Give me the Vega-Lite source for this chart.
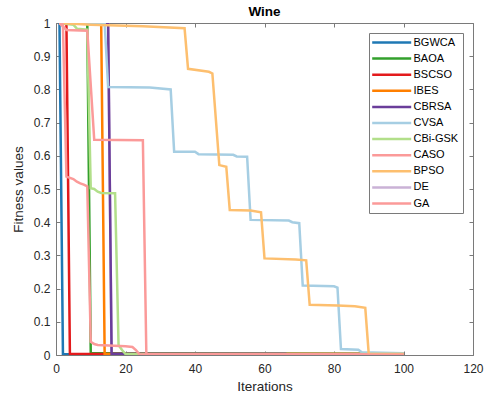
{
  "$schema": "https://vega.github.io/schema/vega-lite/v6.json",
  "width": 417,
  "height": 332,
  "autosize": "none",
  "padding": {"left": 56, "top": 23, "right": 19, "bottom": 43},
  "background": "white",
  "title": {"text": "Wine", "fontSize": 13.5, "fontWeight": "bold", "font": "Liberation Sans", "color": "#000000", "offset": -1},
  "data": {
    "values": [
      {"s": "DE", "x": 1, "y": 1}, {"s": "DE", "x": 15, "y": 1}, {"s": "DE", "x": 16, "y": 0.004}, {"s": "DE", "x": 100, "y": 0.004},
      {"s": "BGWCA", "x": 1, "y": 1}, {"s": "BGWCA", "x": 2, "y": 0.002}, {"s": "BGWCA", "x": 100, "y": 0.002},
      {"s": "BAOA", "x": 1, "y": 1}, {"s": "BAOA", "x": 9, "y": 1}, {"s": "BAOA", "x": 10, "y": 0.006}, {"s": "BAOA", "x": 100, "y": 0.003},
      {"s": "BSCSO", "x": 1, "y": 1}, {"s": "BSCSO", "x": 3, "y": 1}, {"s": "BSCSO", "x": 4, "y": 0.003}, {"s": "BSCSO", "x": 100, "y": 0.003},
      {"s": "IBES", "x": 1, "y": 1}, {"s": "IBES", "x": 13, "y": 1}, {"s": "IBES", "x": 14, "y": 0.004}, {"s": "IBES", "x": 100, "y": 0.003},
      {"s": "CBRSA", "x": 1, "y": 1}, {"s": "CBRSA", "x": 15, "y": 1}, {"s": "CBRSA", "x": 16, "y": 0.004}, {"s": "CBRSA", "x": 66, "y": 0.004}, {"s": "CBRSA", "x": 67, "y": 0.001}, {"s": "CBRSA", "x": 100, "y": 0.001},
      {"s": "CVSA", "x": 1, "y": 1}, {"s": "CVSA", "x": 14, "y": 1}, {"s": "CVSA", "x": 15, "y": 0.807}, {"s": "CVSA", "x": 27, "y": 0.806}, {"s": "CVSA", "x": 33, "y": 0.8}, {"s": "CVSA", "x": 34, "y": 0.612}, {"s": "CVSA", "x": 40, "y": 0.612}, {"s": "CVSA", "x": 41, "y": 0.605}, {"s": "CVSA", "x": 51, "y": 0.603}, {"s": "CVSA", "x": 52, "y": 0.598}, {"s": "CVSA", "x": 55, "y": 0.597}, {"s": "CVSA", "x": 56, "y": 0.407}, {"s": "CVSA", "x": 67, "y": 0.405}, {"s": "CVSA", "x": 68, "y": 0.4}, {"s": "CVSA", "x": 70, "y": 0.397}, {"s": "CVSA", "x": 71, "y": 0.209}, {"s": "CVSA", "x": 80, "y": 0.207}, {"s": "CVSA", "x": 81, "y": 0.203}, {"s": "CVSA", "x": 82, "y": 0.018}, {"s": "CVSA", "x": 87, "y": 0.016}, {"s": "CVSA", "x": 88, "y": 0.008}, {"s": "CVSA", "x": 100, "y": 0.005},
      {"s": "CBi-GSK", "x": 1, "y": 1}, {"s": "CBi-GSK", "x": 5, "y": 0.995}, {"s": "CBi-GSK", "x": 6, "y": 0.983}, {"s": "CBi-GSK", "x": 9, "y": 0.98}, {"s": "CBi-GSK", "x": 10, "y": 0.502}, {"s": "CBi-GSK", "x": 11, "y": 0.5}, {"s": "CBi-GSK", "x": 12, "y": 0.492}, {"s": "CBi-GSK", "x": 13, "y": 0.488}, {"s": "CBi-GSK", "x": 17, "y": 0.487}, {"s": "CBi-GSK", "x": 18, "y": 0.03}, {"s": "CBi-GSK", "x": 19, "y": 0.015}, {"s": "CBi-GSK", "x": 20, "y": 0.003}, {"s": "CBi-GSK", "x": 100, "y": 0.003},
      {"s": "CASO", "x": 1, "y": 1}, {"s": "CASO", "x": 3, "y": 0.979}, {"s": "CASO", "x": 9, "y": 0.977}, {"s": "CASO", "x": 11, "y": 0.648}, {"s": "CASO", "x": 25, "y": 0.647}, {"s": "CASO", "x": 26, "y": 0.002}, {"s": "CASO", "x": 100, "y": 0.002},
      {"s": "BPSO", "x": 1, "y": 1}, {"s": "BPSO", "x": 10, "y": 0.995}, {"s": "BPSO", "x": 25, "y": 0.99}, {"s": "BPSO", "x": 37, "y": 0.984}, {"s": "BPSO", "x": 38, "y": 0.862}, {"s": "BPSO", "x": 44, "y": 0.853}, {"s": "BPSO", "x": 45, "y": 0.848}, {"s": "BPSO", "x": 47, "y": 0.572}, {"s": "BPSO", "x": 49, "y": 0.567}, {"s": "BPSO", "x": 50, "y": 0.437}, {"s": "BPSO", "x": 56, "y": 0.435}, {"s": "BPSO", "x": 59, "y": 0.43}, {"s": "BPSO", "x": 60, "y": 0.291}, {"s": "BPSO", "x": 69, "y": 0.288}, {"s": "BPSO", "x": 72, "y": 0.285}, {"s": "BPSO", "x": 73, "y": 0.151}, {"s": "BPSO", "x": 81, "y": 0.149}, {"s": "BPSO", "x": 86, "y": 0.147}, {"s": "BPSO", "x": 89, "y": 0.142}, {"s": "BPSO", "x": 90, "y": 0.003}, {"s": "BPSO", "x": 100, "y": 0.003},
      {"s": "GA", "x": 1, "y": 1}, {"s": "GA", "x": 2, "y": 0.995}, {"s": "GA", "x": 3, "y": 0.537}, {"s": "GA", "x": 5, "y": 0.53}, {"s": "GA", "x": 6, "y": 0.522}, {"s": "GA", "x": 7, "y": 0.517}, {"s": "GA", "x": 8, "y": 0.513}, {"s": "GA", "x": 9, "y": 0.508}, {"s": "GA", "x": 10, "y": 0.04}, {"s": "GA", "x": 11, "y": 0.033}, {"s": "GA", "x": 12, "y": 0.03}, {"s": "GA", "x": 20, "y": 0.026}, {"s": "GA", "x": 22, "y": 0.024}, {"s": "GA", "x": 23, "y": 0.015}, {"s": "GA", "x": 24, "y": 0.002}, {"s": "GA", "x": 100, "y": 0.001}
    ]
  },
  "layer": [
    {
      "mark": {"type": "line", "strokeWidth": 2.5, "clip": true},
      "encoding": {
        "x": {
          "field": "x", "type": "quantitative",
          "scale": {"domain": [0, 120], "nice": false, "zero": false},
          "axis": {"orient": "bottom", "title": "Iterations", "values": [0, 20, 40, 60, 80, 100, 120], "labelPadding": 12, "titlePadding": 5}
        },
        "y": {
          "field": "y", "type": "quantitative",
          "scale": {"domain": [0, 1], "nice": false, "zero": false},
          "axis": {"orient": "left", "title": "Fitness values", "values": [0, 0.1, 0.2, 0.3, 0.4, 0.5, 0.6, 0.7, 0.8, 0.9, 1], "format": ".1~f", "labelPadding": 10, "titlePadding": 8}
        },
        "color": {
          "field": "s", "type": "nominal",
          "scale": {
            "domain": ["BGWCA", "BAOA", "BSCSO", "IBES", "CBRSA", "CVSA", "CBi-GSK", "CASO", "BPSO", "DE", "GA"],
            "range": ["#1f78b4", "#33a02c", "#e31a1c", "#ff7f00", "#6a3d9a", "#a6cee3", "#b2df8a", "#fb9a99", "#fdbf6f", "#cab2d6", "#fb9a99"]
          },
          "legend": {
            "orient": "none", "legendX": 313, "legendY": 10, "title": null,
            "direction": "vertical", "columns": 1, "columnPadding": 0,
            "symbolType": "M-9.75,0H9.75", "symbolSize": 16, "symbolStrokeWidth": 2.5,
            "symbolOffset": 13.2, "labelOffset": 16.3, "labelFontSize": 11, "labelFont": "Liberation Sans", "labelColor": "#000000", "labelLimit": 50,
            "padding": 4, "rowPadding": 4.1, "strokeColor": "#7a7a7a", "fillColor": "white"
          }
        }
      }
    },
    {
      "mark": {"type": "line", "opacity": 0},
      "encoding": {
        "x": {
          "field": "x", "type": "quantitative",
          "scale": {"domain": [0, 120], "nice": false, "zero": false},
          "axis": {"orient": "top", "title": null, "labels": false, "values": [0, 20, 40, 60, 80, 100, 120]}
        },
        "y": {
          "field": "y", "type": "quantitative",
          "scale": {"domain": [0, 1], "nice": false, "zero": false},
          "axis": {"orient": "right", "title": null, "labels": false, "values": [0, 0.1, 0.2, 0.3, 0.4, 0.5, 0.6, 0.7, 0.8, 0.9, 1]}
        }
      }
    }
  ],
  "resolve": {"axis": {"x": "independent", "y": "independent"}},
  "config": {
    "view": {"stroke": null},
    "axis": {
      "grid": false, "domainColor": "#7a7a7a", "domainWidth": 1, "tickColor": "#7a7a7a", "tickWidth": 1, "tickSize": -4,
      "labelFlush": false, "labelOverlap": false,
      "labelFont": "Liberation Sans", "labelFontSize": 12, "labelColor": "#262626",
      "titleFont": "Liberation Sans", "titleFontSize": 13.5, "titleFontWeight": "normal", "titleColor": "#262626"
    }
  }
}
